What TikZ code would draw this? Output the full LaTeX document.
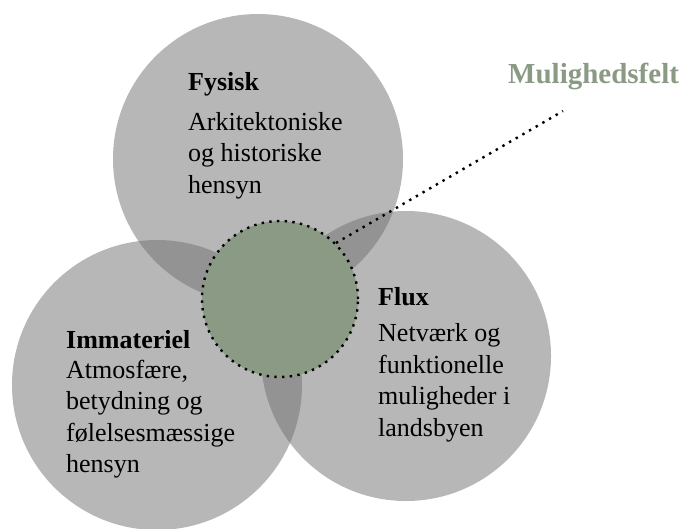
\documentclass[tikz,border=0pt]{standalone}
\usepackage{fontspec}
\setmainfont{Liberation Serif}
\usetikzlibrary{positioning}

\definecolor{feltgreen}{HTML}{8A9A85}
\definecolor{feltgray}{RGB}{111,111,111}

\begin{document}
\begin{tikzpicture}[x=1pt, y=-1pt,
    bigcircle/.style={circle, fill=feltgray, fill opacity=0.5, minimum size=290pt, inner sep=0pt},
    dotline/.style={line width=2.4pt, dash pattern=on 2.4pt off 5.3pt},
    body/.style={align=left, inner sep=0pt, anchor=base west, font=\fontsize{26}{31.5}\selectfont}]
  \useasboundingbox (0,0) rectangle (687,528);

  % the three fields
  \node[bigcircle] (fysisk) at (258,159) {};
  \node[bigcircle] (immat) at (157,385) {};
  \node[bigcircle] (flux) at (406,356) {};

  % the field of possibilities in the middle
  \node[circle, fill=feltgreen, draw=black, dotline, minimum size=156pt, inner sep=0pt] (felt) at (280,299) {};

  % texts, placed at the baseline of their last line
  \node[body] (fysisktxt) at (188,193) {\textbf{Fysisk}\\[8.5pt] Arkitektoniske\\ og historiske\\ hensyn};
  \node[body] (fluxtxt) at (378,436) {\textbf{Flux}\\[5pt] Netværk og\\ funktionelle\\ muligheder i\\ landsbyen};
  \node[body] (immattxt) at (66,472.5) {\textbf{Immateriel}\\[-1.5pt] Atmosfære,\\ betydning og\\ følelsesmæssige\\ hensyn};

  \node[inner sep=0pt, anchor=base west, text=feltgreen, font=\fontsize{29}{33}\selectfont\bfseries] (mulig) at (508,83) {Mulighedsfelt};
  \coordinate (feltend) at (563,111);

  \draw[dotline] (felt.45) -- (feltend);
\end{tikzpicture}
\end{document}
